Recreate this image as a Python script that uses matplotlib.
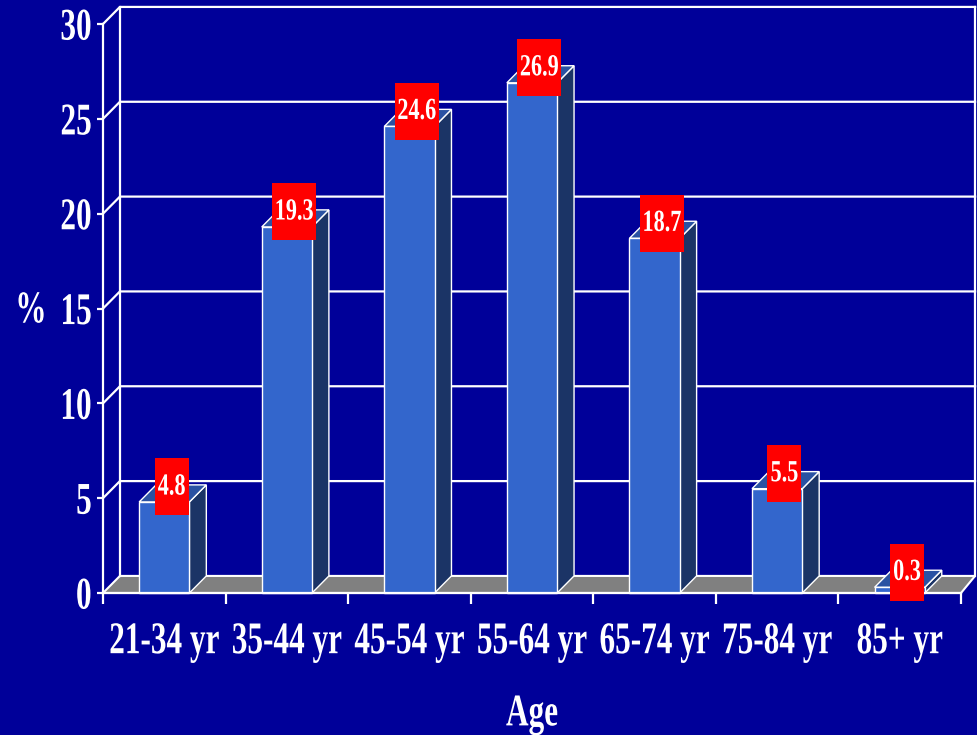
import matplotlib
matplotlib.use('Agg')
import matplotlib.pyplot as plt
from matplotlib import patheffects
from matplotlib.patches import Polygon, Rectangle
from matplotlib.transforms import Affine2D

ages = ['21-34 yr', '35-44 yr', '45-54 yr', '55-64 yr', '65-74 yr', '75-84 yr', '85+ yr']
pct = [4.8, 19.3, 24.6, 26.9, 18.7, 5.5, 0.3]
yticks = [0, 5, 10, 15, 20, 25, 30]

BG = '#000099'
FRONT = '#3366CC'
SIDE = '#1B3466'
TOP = '#2A52A3'
FLOOR = '#808080'
DX, DY = 0.138, 0.9        # depth offset (category units, value units)
XR = 7.115                 # right edge of back wall
BW = 0.205                 # half bar width
FS = 22.5                  # axis text size
SY = 1.45                  # vertical stretch of the slide font


class Stretch(patheffects.AbstractPathEffect):
    """make the glyphs taller, like the stretched slide font"""
    def __init__(self, sy, at='center'):
        super().__init__()
        self.sy = sy
        self.at = at

    def draw_path(self, renderer, gc, tpath, affine, rgbFace=None):
        if self.at == 'baseline':
            cy = affine.get_matrix()[1, 2]
        else:
            ext = tpath.get_extents(affine)
            cy = ext.y0 + ext.height / 2
        aff = affine + Affine2D().translate(0, -cy).scale(1, self.sy).translate(0, cy)
        renderer.draw_path(gc, tpath, aff, rgbFace)


font = dict(family='Liberation Serif', weight='bold', color='white')

fig = plt.figure(figsize=(9.78, 7.35), dpi=100, facecolor=BG)
ax = fig.add_axes([103 / 978, 142 / 735, 858 / 978, 569 / 735])
ax.set_facecolor('none')
ax.set_xlim(0, 7)
ax.set_ylim(0, 30)

# floor and back wall
ax.add_patch(Polygon([(0, 0), (7, 0), (XR, DY), (DX, DY)], closed=True,
                     facecolor=FLOOR, edgecolor='white', lw=1.5, clip_on=False, zorder=1))
for v in yticks[1:]:
    ax.plot([0, DX, XR], [v, v + DY, v + DY], color='white', lw=1.6, clip_on=False, zorder=1)
ax.plot([DX, DX], [DY, 30 + DY], color='white', lw=1.6, clip_on=False, zorder=1)
ax.plot([XR, XR], [DY, 30 + DY], color='white', lw=1.6, clip_on=False, zorder=1)

# 3d bars
for i, v in enumerate(pct):
    xc = i + 0.5
    x0, x1 = xc - BW, xc + BW
    ax.add_patch(Polygon([(x1, 0), (x1 + DX, DY), (x1 + DX, v + DY), (x1, v)], closed=True,
                         facecolor=SIDE, edgecolor='white', lw=1, clip_on=False, zorder=3))
    ax.add_patch(Polygon([(x0, v), (x1, v), (x1 + DX, v + DY), (x0 + DX, v + DY)], closed=True,
                         facecolor=TOP, edgecolor='white', lw=1, clip_on=False, zorder=3))
    ax.add_patch(Rectangle((x0, 0), 2 * BW, v, facecolor=FRONT, edgecolor='white',
                           lw=1, clip_on=False, zorder=3))

# red value labels
for i, v in enumerate(pct):
    s = '%.1f' % v
    w = (len(s) * 10 + 4) / 122.57
    cx, cy = i + 0.56, v + 0.8
    ax.add_patch(Rectangle((cx - w / 2, cy - 1.5), w, 3.0, facecolor='#FF0000',
                           edgecolor='none', clip_on=False, zorder=5))
    t = ax.text(cx, cy, s, ha='center', va='center', fontsize=16, zorder=6, **font)
    t.set_path_effects([Stretch(1.38)])

# axes
for side in ['top', 'right']:
    ax.spines[side].set_visible(False)
for side in ['left', 'bottom']:
    ax.spines[side].set_color('white')
    ax.spines[side].set_linewidth(1.6)
    ax.spines[side].set_zorder(4)

ax.set_yticks(yticks)
ax.set_yticklabels([str(y) for y in yticks])
ax.set_xticks(range(8))
ax.set_xticklabels([])
ax.set_xticks([i + 0.5 for i in range(7)], minor=True)
ax.set_xticklabels(ages, minor=True)
ax.tick_params(axis='y', colors='white', length=4.5, width=1.6, pad=3.6, labelsize=FS)
ax.tick_params(axis='x', which='major', colors='white', length=8, width=1.6)
ax.tick_params(axis='x', which='minor', colors='white', length=0, pad=27.5, labelsize=FS)

for lbl in ax.get_yticklabels():
    lbl.set_fontfamily('Liberation Serif')
    lbl.set_fontweight('bold')
    lbl.set_path_effects([Stretch(SY)])
for lbl in ax.get_xticklabels(minor=True):
    lbl.set_fontfamily('Liberation Serif')
    lbl.set_fontweight('bold')
    lbl.set_path_effects([Stretch(SY, 'baseline')])

xl = ax.set_xlabel('Age', fontsize=FS, va='top', **font)
ax.xaxis.set_label_coords(0.5, -0.194)
xl.set_path_effects([Stretch(SY, 'baseline')])
yl = ax.set_ylabel('%', fontsize=FS, rotation=0, ha='center', va='center', **font)
ax.yaxis.set_label_coords(-0.084, 0.497)
yl.set_path_effects([Stretch(SY)])

plt.savefig('out.png', dpi=100, facecolor=BG)
